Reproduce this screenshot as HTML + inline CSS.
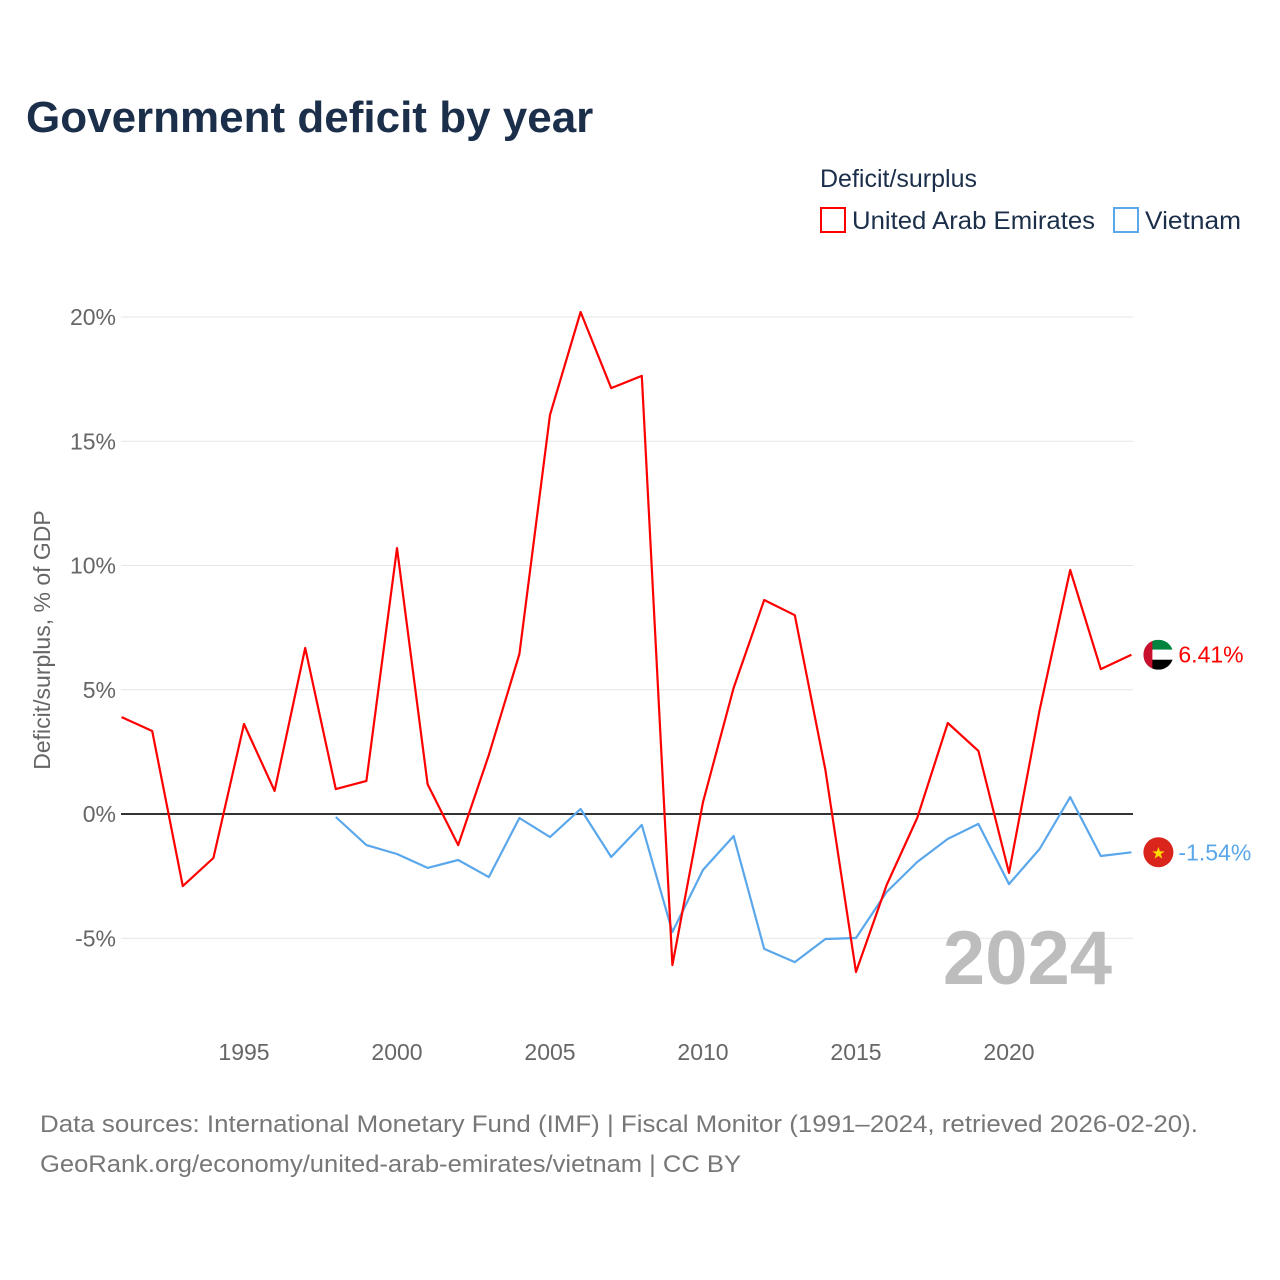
<!DOCTYPE html>
<html><head><meta charset="utf-8"><style>
body{margin:0;background:#fff;font-family:"Liberation Sans",sans-serif}
svg{display:block}
</style></head><body>
<svg width="1280" height="1280" viewBox="0 0 1280 1280">
<text x="26" y="132" font-size="44" font-weight="bold" fill="#1b2f4b">Government deficit by year</text>
<text x="820" y="187" font-size="25" fill="#1b2f4b">Deficit/surplus</text>
<g><rect x="821" y="208" width="24" height="24" fill="none" stroke="#ff0000" stroke-width="2"/><text x="852" y="229" font-size="25" fill="#1b2f4b" textLength="243" lengthAdjust="spacingAndGlyphs">United Arab Emirates</text></g>
<g><rect x="1114" y="208" width="24" height="24" fill="none" stroke="#5aa7ec" stroke-width="2"/><text x="1145" y="229" font-size="25" fill="#1b2f4b" textLength="96" lengthAdjust="spacingAndGlyphs">Vietnam</text></g>
<g id="grid"></g>
<g id="xt"></g>
<text x="1112" y="984" text-anchor="end" font-size="76" font-weight="bold" fill="#bdbdbd">2024</text>
<text transform="translate(50,640) rotate(-90)" text-anchor="middle" font-size="23" fill="#666">Deficit/surplus, % of GDP</text>
<g id="lines"></g>
<text x="40" y="1132" font-size="24" fill="#777" textLength="1158" lengthAdjust="spacingAndGlyphs">Data sources: International Monetary Fund (IMF) | Fiscal Monitor (1991–2024, retrieved 2026-02-20).</text>
<text x="40" y="1172" font-size="24" fill="#777" textLength="701" lengthAdjust="spacingAndGlyphs">GeoRank.org/economy/united-arab-emirates/vietnam | CC BY</text>
</svg>
<script>
const years=[];for(let y=1991;y<=2024;y++)years.push(y);
const uae=[3.9,3.34,-2.9,-1.77,3.62,0.93,6.68,1.0,1.33,10.7,1.2,-1.25,2.37,6.44,16.06,20.2,17.14,17.63,-6.08,0.48,5.07,8.61,8.0,1.77,-6.36,-2.86,-0.16,3.66,2.54,-2.37,4.18,9.82,5.83,6.41];
const vietnam=[null,null,null,null,null,null,null,-0.12,-1.25,-1.61,-2.17,-1.85,-2.54,-0.16,-0.93,0.2,-1.73,-0.44,-4.75,-2.25,-0.89,-5.43,-5.96,-5.03,-4.99,-3.14,-1.93,-1.0,-0.4,-2.82,-1.41,0.68,-1.69,-1.54];
const yTicks=[-5,0,5,10,15,20];
const xTicks=[1995,2000,2005,2010,2015,2020];
const NS="http://www.w3.org/2000/svg";
const X=y=>121.6+(y-1991)*(1131.4-121.6)/33;
const Y=v=>814-v*24.85;
function mk(t,a,p){const e=document.createElementNS(NS,t);for(const k in a)e.setAttribute(k,a[k]);p.appendChild(e);return e;}
const grid=document.getElementById('grid');
yTicks.forEach(v=>{
 const l=mk('line',{x1:121,x2:1133,y1:Y(v),y2:Y(v),stroke:v===0?'#333':'#e6e6e6','stroke-width':v===0?2:1},grid);
 
 
 const t=mk('text',{x:116,y:Y(v)+8,'text-anchor':'end','font-size':23,fill:'#666'},grid);
 t.textContent=v+'%';
 
 
});
const xt=document.getElementById('xt');
xTicks.forEach(y=>{
 const t=mk('text',{x:X(y),y:1060,'text-anchor':'middle','font-size':23,fill:'#666'},xt);
 t.textContent=y;
 
 
});
const lines=document.getElementById('lines');
function draw(data,color,name){
 let d='';let first=true;
 data.forEach((v,i)=>{if(v==null)return;d+=(first?'M':'L')+X(years[i]).toFixed(1)+','+Y(v).toFixed(1);first=false;});
 const p=mk('path',{d:d,fill:'none',stroke:color,'stroke-width':2.2,'stroke-linejoin':'round'},lines);
 
 
}
draw(vietnam,'#5aa7ec','vietnam');
draw(uae,'#ff0000','uae');
const uv=uae[uae.length-1],vv=vietnam[vietnam.length-1];
const ux=X(2024)+27,uy=Y(uv),vy=Y(vv);
const g1=mk('g',{},lines);


mk('clipPath',{id:'c1'},g1).appendChild(document.createElementNS(NS,'circle')).setAttribute('r',15);
document.querySelector('#c1 circle').setAttribute('cx',ux);document.querySelector('#c1 circle').setAttribute('cy',uy);
const fg=mk('g',{'clip-path':'url(#c1)'},g1);
mk('rect',{x:ux-15,y:uy-15,width:30,height:10,fill:'#00843d'},fg);
mk('rect',{x:ux-15,y:uy-5,width:30,height:10,fill:'#fff'},fg);
mk('rect',{x:ux-15,y:uy+5,width:30,height:10,fill:'#000'},fg);
mk('rect',{x:ux-15,y:uy-15,width:9,height:30,fill:'#c8102e'},fg);
const t1=mk('text',{x:ux+20,y:uy+8,'font-size':23,fill:'#ff0000'},lines);
t1.textContent=uv.toFixed(2)+'%';


const c2=mk('circle',{cx:ux,cy:vy,r:15,fill:'#da251d'},lines);


const st=mk('text',{x:ux,y:vy+6,'text-anchor':'middle','font-size':16,fill:'#ffdd00'},lines);st.textContent='★';


const t2=mk('text',{x:ux+20,y:vy+8,'font-size':23,fill:'#5aa7ec'},lines);
t2.textContent=vv.toFixed(2)+'%';


</script>
</body></html>
